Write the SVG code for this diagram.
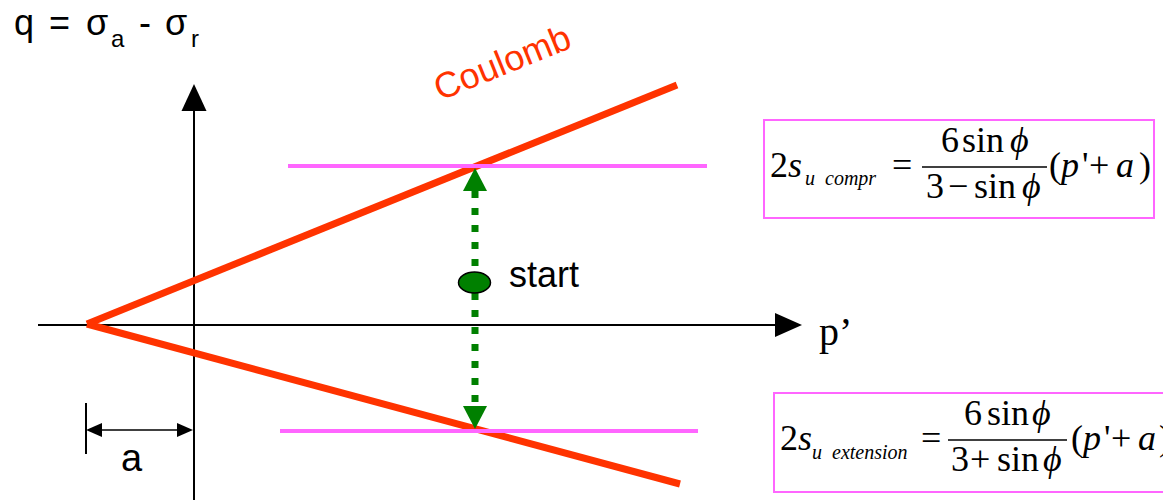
<svg xmlns="http://www.w3.org/2000/svg" width="1163" height="500" viewBox="0 0 1163 500">
<style>
.sans{font-family:"Liberation Sans",Arial,sans-serif;}
.serif{font-family:"Liberation Serif","Times New Roman",serif;}
.it{font-style:italic;}
.coul{stroke:#FF3300;stroke-width:7;fill:none;}
.mag{stroke:#FF66FF;stroke-width:4;fill:none;}
.box{stroke:#FF66FF;stroke-width:2;fill:#fff;}
.ax{stroke:#000;stroke-width:2;fill:none;}
.bar{stroke:#000;stroke-width:1.6;}
</style>
<rect width="1163" height="500" fill="#fff"/>
<g id="title">
<text class="sans" font-size="36" y="35"><tspan x="14">q</tspan><tspan x="49">=</tspan><tspan x="86">σ</tspan><tspan x="111" y="47" font-size="24">a</tspan><tspan x="139" y="35">-</tspan><tspan x="165">σ</tspan><tspan x="191" y="47" font-size="24">r</tspan></text>
</g>
<g id="axes">
<line class="ax" x1="38" y1="325" x2="778" y2="325"/>
<polygon points="775,313 802,325 775,337" fill="#000"/>
<line class="ax" x1="194" y1="500" x2="194" y2="108" stroke="#222"/>
<polygon points="181.5,111 194,84 206.5,111" fill="#000"/>
<text class="serif" font-size="40" x="819" y="345">p’</text>
</g>
<g id="coulomb">
<line class="coul" x1="87" y1="324" x2="677" y2="85"/>
<line class="coul" x1="87" y1="324" x2="680" y2="484"/>
<text class="sans" font-size="36" fill="#FF3300" x="440" y="101" transform="rotate(-22 440 101)">Coulomb</text>
</g>
<g id="limits">
<line class="mag" x1="288" y1="166" x2="707" y2="166"/>
<line class="mag" x1="280" y1="431" x2="698" y2="431"/>
</g>
<g id="connectors">
<line x1="475" y1="191" x2="475" y2="406" stroke="#008000" stroke-width="7" stroke-dasharray="7 10"/>
<polygon points="463,191 475,168 487,191" fill="#008000"/>
<polygon points="463,406 475,429 487,406" fill="#008000"/>
</g>
<g id="start">
<ellipse cx="474.5" cy="282.5" rx="16" ry="10.5" fill="#008000" stroke="#000" stroke-width="1.5"/>
<text class="sans" font-size="36" x="509" y="287">start</text>
</g>
<g id="dimension-a">
<line x1="86" y1="403" x2="86" y2="454" stroke="#000" stroke-width="2"/>
<line x1="100" y1="430" x2="180" y2="430" stroke="#000" stroke-width="1.5"/>
<polygon points="86,430 102,423 102,437" fill="#000"/>
<polygon points="193,430 177,423 177,437" fill="#000"/>
<text class="sans" font-size="38" x="121" y="471">a</text>
</g>
<g id="formula-compr">
<rect class="box" x="764" y="120" width="390" height="98"/>
<text class="serif" font-size="36" x="770" y="177">2<tspan class="it">s</tspan></text>
<text class="serif it" font-size="20" x="805" y="185">u</text>
<text class="serif it" font-size="20" x="825" y="185">compr</text>
<text class="serif" font-size="36" x="892" y="177">=</text>
<text class="serif" font-size="36" x="941" y="152">6</text>
<text class="serif" font-size="36" x="962" y="152">sin</text>
<text class="serif it" font-size="36" x="1010" y="152">ϕ</text>
<line class="bar" x1="922" y1="167" x2="1047" y2="167"/>
<text class="serif" font-size="36" x="926" y="198">3</text>
<text class="serif" font-size="36" x="948" y="198">−</text>
<text class="serif" font-size="36" x="974" y="198">sin</text>
<text class="serif it" font-size="36" x="1022" y="198">ϕ</text>
<text class="serif" font-size="36" x="1049" y="177">(</text>
<text class="serif it" font-size="36" x="1061" y="177">p</text>
<text class="serif" font-size="36" x="1082" y="177">'</text>
<text class="serif" font-size="36" x="1089" y="177">+</text>
<text class="serif it" font-size="36" x="1116" y="177">a</text>
<text class="serif" font-size="36" x="1139" y="177">)</text>
</g>
<g id="formula-extension">
<rect class="box" x="774" y="393" width="400" height="99"/>
<text class="serif" font-size="36" x="780" y="450">2<tspan class="it">s</tspan></text>
<text class="serif it" font-size="20" x="812" y="459">u</text>
<text class="serif it" font-size="20" x="832" y="459">extension</text>
<text class="serif" font-size="36" x="921" y="450">=</text>
<text class="serif" font-size="36" x="964" y="425">6</text>
<text class="serif" font-size="36" x="987" y="425">sin</text>
<text class="serif it" font-size="36" x="1032" y="425">ϕ</text>
<line class="bar" x1="948" y1="440" x2="1067" y2="440"/>
<text class="serif" font-size="36" x="951" y="471">3</text>
<text class="serif" font-size="36" x="970" y="471">+</text>
<text class="serif" font-size="36" x="997" y="471">sin</text>
<text class="serif it" font-size="36" x="1043" y="471">ϕ</text>
<text class="serif" font-size="36" x="1071" y="450">(</text>
<text class="serif it" font-size="36" x="1083" y="450">p</text>
<text class="serif" font-size="36" x="1104" y="450">'</text>
<text class="serif" font-size="36" x="1111" y="450">+</text>
<text class="serif it" font-size="36" x="1138" y="450">a</text>
<text class="serif" font-size="36" x="1159" y="450">)</text>
</g>
</svg>
